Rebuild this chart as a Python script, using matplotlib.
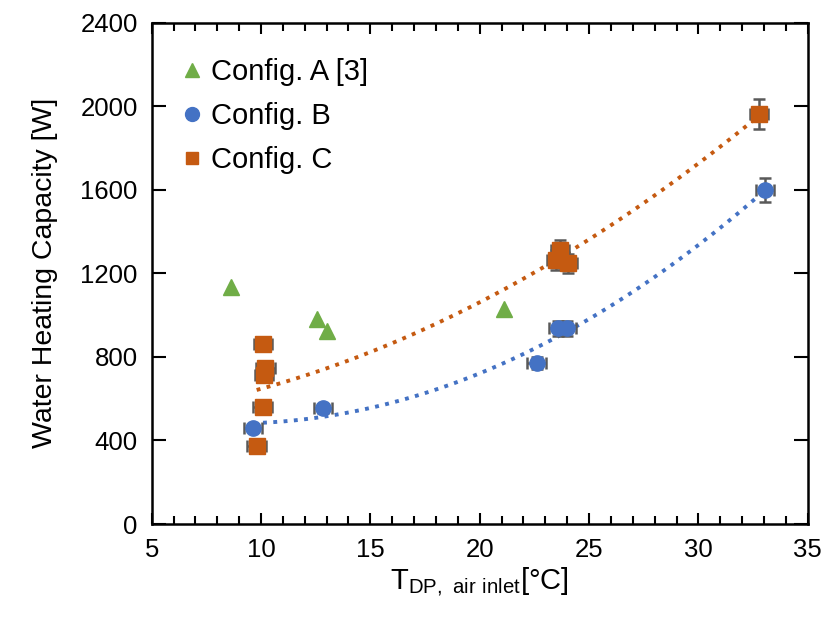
import numpy as np
import matplotlib
matplotlib.use('Agg')
import matplotlib.pyplot as plt
from matplotlib.ticker import MultipleLocator
from matplotlib.lines import Line2D

plt.rcParams['font.family'] = ['Liberation Sans', 'DejaVu Sans']
plt.rcParams['mathtext.default'] = 'regular'

# Config. A [3]
a_x = [8.63, 12.54, 13.0, 21.12]
a_y = [1136, 980, 925, 1028]
# Config. B
b_x = [9.62, 12.82, 22.6, 23.59, 23.98, 33.04]
b_y = [458, 554, 772, 937, 937, 1599]
# Config. C
c_x = [9.8, 10.07, 10.15, 10.2, 10.1, 23.5, 23.67, 24.05, 32.78]
c_y = [373, 562, 715, 745, 862, 1264, 1312, 1248, 1963]

x_err = 0.42
y_err_frac = 0.037

green = '#70AD47'
blue = '#4472C4'
orange = '#C55A11'
grey = '#595959'

fig = plt.figure(figsize=(8.28, 6.18), dpi=100)
ax = fig.add_axes([0.1832, 0.1521, 0.7923, 0.8112])


def poly_trend(x, y):
    x = np.asarray(x)
    p = np.polyfit(x, y, 2)
    xs = np.linspace(x.min(), x.max(), 100)
    return xs, np.polyval(p, xs)


# trendlines
xs, ys = poly_trend(b_x, b_y)
ax.plot(xs, ys, ':', color=blue, lw=2.8, zorder=1)
xs, ys = poly_trend(c_x, c_y)
ax.plot(xs, ys, ':', color=orange, lw=2.8, zorder=1)

ax.plot(a_x, a_y, '^', color=green, ms=11, ls='none', zorder=3)
ax.errorbar(b_x, b_y, xerr=x_err, yerr=np.array(b_y) * y_err_frac, fmt='o',
            color=blue, ms=11, ecolor=grey, elinewidth=1.8, capsize=4,
            capthick=1.8, zorder=3)
ax.errorbar(c_x, c_y, xerr=x_err, yerr=np.array(c_y) * y_err_frac, fmt='s',
            color=orange, ms=11, ecolor=grey, elinewidth=1.8, capsize=4,
            capthick=1.8, zorder=3)

ax.set_xlim(5, 35)
ax.set_ylim(0, 2400)
ax.xaxis.set_major_locator(MultipleLocator(5))
ax.xaxis.set_minor_locator(MultipleLocator(1))
ax.yaxis.set_major_locator(MultipleLocator(400))
ax.tick_params(axis='both', which='both', direction='in', top=True, right=True,
               labelsize=18.5, width=1.5, pad=10, colors='black')
ax.tick_params(axis='x', which='major', length=8)
ax.tick_params(axis='x', which='minor', length=6)
ax.tick_params(axis='y', which='major', length=10)
for s in ax.spines.values():
    s.set_linewidth(1.8)

ax.set_xlabel('T$_{DP,\\ air\\ inlet}$[°C]', fontsize=21, labelpad=2)
ax.set_ylabel('Water Heating Capacity [W]', fontsize=20.5, labelpad=16)

handles = [
    Line2D([], [], marker='^', color=green, ls='none', ms=10),
    Line2D([], [], marker='o', color=blue, ls='none', ms=10),
    Line2D([], [], marker='s', color=orange, ls='none', ms=9),
]
labels = ['Config. A [3]', 'Config. B', 'Config. C']
ax.legend(handles, labels, loc='upper left', frameon=False, fontsize=21,
          handlelength=0.7, handletextpad=0.3, labelspacing=0.55,
          borderaxespad=0.3, bbox_to_anchor=(0.015, 0.97))

fig.savefig('out.png', dpi=100)
